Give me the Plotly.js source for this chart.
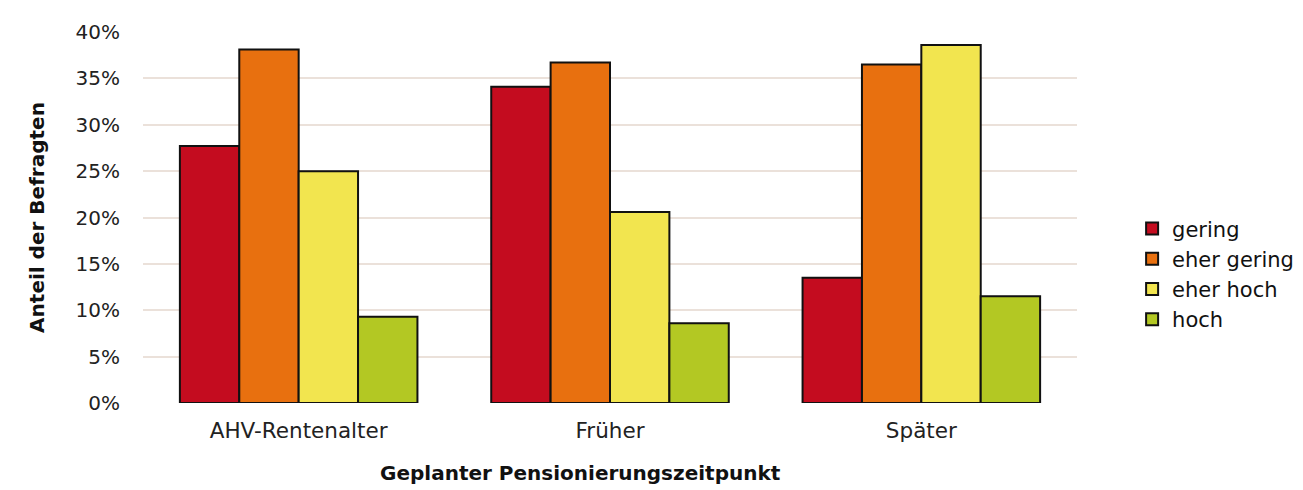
<!DOCTYPE html>
<html><head><meta charset="utf-8">
<script src="https://cdn.plot.ly/plotly-3.0.1.min.js"></script>
<style>body{margin:0;background:#fff}#chart{width:1303px;height:490px}</style>
</head><body><div id="chart"></div>
<script>
const categories = ["AHV-Rentenalter", "Früher", "Später"];
const seriesNames = ["gering", "eher gering", "eher hoch", "hoch"];
const gering = [27.7, 34.1, 13.5];
const eherGering = [38.1, 36.7, 36.5];
const eherHoch = [25.0, 20.6, 38.6];
const hoch = [9.3, 8.6, 11.5];
const yTicks = [0, 5, 10, 15, 20, 25, 30, 35, 40];
const yTickLabels = ["0%", "5%", "10%", "15%", "20%", "25%", "30%", "35%", "40%"];
const colors = ["#c40c1f", "#e8700f", "#f2e54f", "#b3c823"];

const allSeries = [gering, eherGering, eherHoch, hoch];
const font = "DejaVu Sans, Verdana, sans-serif";
const data = allSeries.map((vals, i) => ({
  type: "bar",
  name: seriesNames[i],
  x: categories,
  y: vals,
  legendgroup: "g" + i,
  marker: {color: colors[i], line: {color: "#111", width: 2}},
  hoverinfo: "skip"
}));

const layout = {
  width: 1303, height: 490,
  margin: {l: 143, r: 226, t: 32, b: 87, autoexpand: false},
  paper_bgcolor: "#fff", plot_bgcolor: "#fff",
  barmode: "group", bargap: 0.237, bargroupgap: 0,
  font: {family: font, color: "#222", size: 20},
  xaxis: {
    type: "category", range: [-0.5, 2.5],
    showgrid: false, zeroline: false, showline: false, ticks: "outside", ticklen: 8, tickcolor: "rgba(0,0,0,0)",
    tickfont: {size: 21.5, family: font, color: "#222"},
    title: {text: ""}
  },
  yaxis: {
    range: [0, 40], tickvals: yTicks, ticktext: yTickLabels,
    showgrid: true, gridcolor: "#ebe1da", gridwidth: 2,
    zeroline: false, showline: false, ticks: "outside", ticklen: 18, tickcolor: "rgba(0,0,0,0)",
    tickfont: {size: 20, family: font, color: "#222"},
    title: {text: "Anteil der Befragten", font: {size: 20, family: font, color: "#111", weight: "bold"}, standoff: 25}
  },
  legend: {
    x: 1.059, xanchor: "left", y: 0.525, yanchor: "top",
    font: {size: 21, family: font, color: "#111"},
    traceorder: "grouped", tracegroupgap: 0, itemwidth: 30,
    bgcolor: "rgba(0,0,0,0)"
  },
  annotations: [{
    text: "<b>Geplanter Pensionierungszeitpunkt</b>",
    xref: "paper", yref: "paper", x: 0.468, y: 0, yshift: -70,
    xanchor: "center", yanchor: "middle", showarrow: false,
    font: {size: 20, family: font, color: "#111"}
  }]
};

Plotly.newPlot("chart", data, layout, {displayModeBar: false, staticPlot: true});
</script></body></html>
